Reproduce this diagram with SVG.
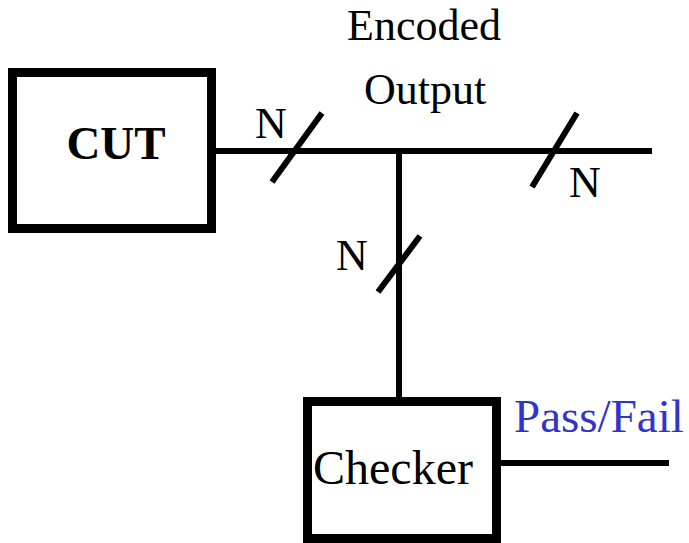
<svg xmlns="http://www.w3.org/2000/svg" width="689" height="543" viewBox="0 0 689 543">
<style>
.box{fill:#fff;stroke:#000;stroke-width:9}
.w{stroke:#000;stroke-width:6;fill:none}
.t{font-family:"Liberation Serif","Times New Roman",serif;font-size:44px;fill:#000}
</style>
<rect width="689" height="543" fill="#fff"/>
<g id="connectors">
<line class="w" x1="203" y1="151" x2="652" y2="151"/>
<line class="w" x1="399" y1="151" x2="399" y2="398"/>
<line class="w" x1="500" y1="463" x2="669" y2="463"/>
<line class="w" x1="272" y1="182" x2="322" y2="113"/>
<line class="w" x1="532" y1="187" x2="577" y2="113"/>
<line class="w" x1="378" y1="292" x2="420" y2="236"/>
<text class="t" x="255" y="138">N</text>
<text class="t" x="569" y="197">N</text>
<text class="t" x="336" y="270">N</text>
<text class="t" x="424" y="40" text-anchor="middle">Encoded</text>
<text class="t" x="425" y="104" text-anchor="middle">Output</text>
<text class="t" x="514" y="432" style="fill:#3333cc;font-size:47px">Pass/Fail</text>
</g>
<g id="cut">
<rect class="box" x="12.5" y="72.5" width="199" height="156"/>
<text class="t" x="116" y="159" text-anchor="middle" style="font-weight:bold;font-size:47px">CUT</text>
</g>
<g id="checker">
<rect class="box" x="307.5" y="401.5" width="189" height="137"/>
<text class="t" x="393" y="484" text-anchor="middle" style="font-size:48px">Checker</text>
</g>
</svg>
